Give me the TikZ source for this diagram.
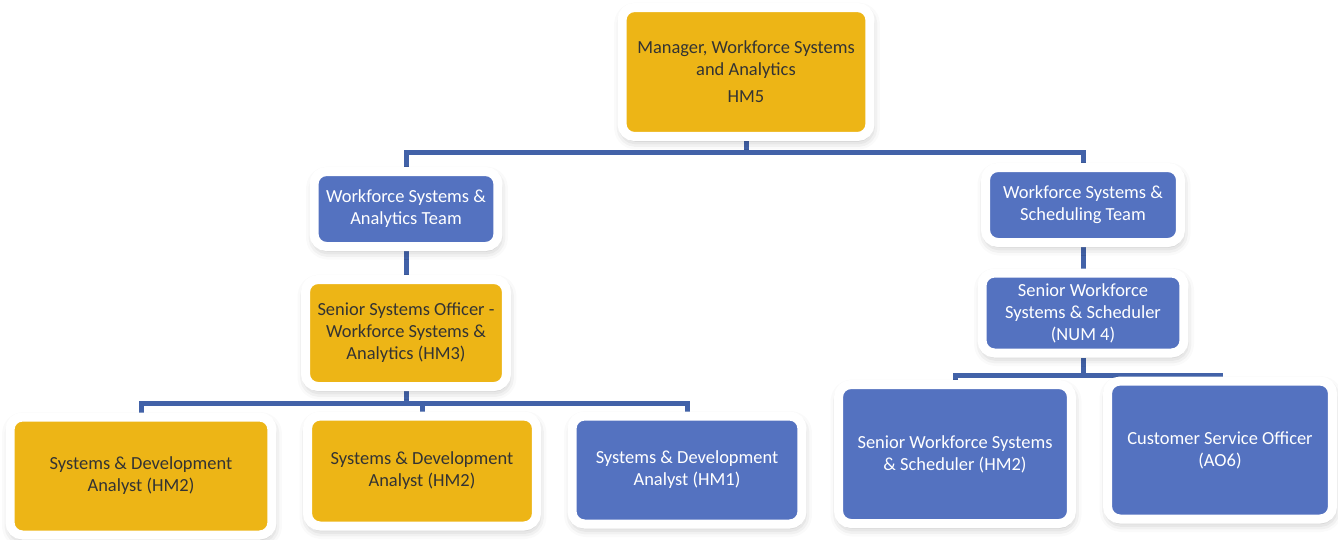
\documentclass[tikz,border=0pt]{standalone}
\usepackage{fontspec}
\setmainfont{Carlito}
\usetikzlibrary{shadows.blur,backgrounds}
\definecolor{gold}{RGB}{237,181,22}
\definecolor{steel}{RGB}{84,114,192}
\definecolor{linkblue}{RGB}{66,98,168}

\begin{document}
\begin{tikzpicture}[x=0.02cm, y=-0.02cm,
    post/.style={rectangle, rounded corners=0.25cm, draw=white, line width=0.18cm, align=center, inner sep=0.1cm,
        font=\fontsize{10.5}{12.5}\selectfont,
        blur shadow={shadow xshift=0.02cm, shadow yshift=-0.08cm, shadow blur radius=0.18cm, shadow opacity=30}},
    gold post/.style={post, fill=gold, text=black!80},
    blue post/.style={post, fill=steel, text=white},
    wire/.style={draw=linkblue, line width=0.1cm}]
    \useasboundingbox (0,0) rectangle (1338,539);

    \node[gold post, minimum width=4.96cm, minimum height=2.58cm] (manager) at (746,72) {Manager, Workforce Systems\\and Analytics\\[3pt]HM5} ;

    \node[blue post, minimum width=3.68cm, minimum height=1.5cm] (wsa_team) at (406,209) {Workforce Systems \&\\Analytics Team} ;
    \node[blue post, minimum width=3.9cm, minimum height=1.5cm] (wss_team) at (1083,205) {Workforce Systems \&\\Scheduling Team} ;

    \node[gold post, minimum width=4.02cm, minimum height=2.14cm] (sso_hm3) at (406,333) {Senior Systems Officer -\\Workforce Systems \&\\Analytics (HM3)} ;
    \node[blue post, minimum width=4.04cm, minimum height=1.6cm] (sws_num4) at (1083,313) {Senior Workforce\\Systems \& Scheduler\\(NUM 4)} ;

    \node[gold post, minimum width=5.24cm, minimum height=2.36cm] (sda_hm2_a) at (141,476) {Systems \& Development\\Analyst (HM2)} ;
    \node[gold post, minimum width=4.58cm, minimum height=2.2cm] (sda_hm2_b) at (422,471) {Systems \& Development\\Analyst (HM2)} ;
    \node[blue post, minimum width=4.6cm, minimum height=2.16cm] (sda_hm1) at (687,470) {Systems \& Development\\Analyst (HM1)} ;
    \node[blue post, minimum width=4.66cm, minimum height=2.78cm] (sws_hm2) at (955,454) {Senior Workforce Systems\\\& Scheduler (HM2)} ;
    \node[blue post, minimum width=4.5cm, minimum height=2.76cm] (cso_ao6) at (1220,450) {Customer Service Officer\\(AO6)} ;

    \coordinate (top_bus) at (746,152) ;
    \coordinate (left_bus) at (406,403) ;
    \coordinate (right_bus) at (1083,375) ;

    \begin{pgfonlayer}{background}
    \draw[wire] (manager.south) -- (top_bus) ;
    \draw[wire] (wsa_team.north) |- (top_bus) -| (wss_team.north) ;

    \draw[wire] (wsa_team.south) -- (sso_hm3.north) ;
    \draw[wire] (wss_team.south) -- (sws_num4.north) ;

    \draw[wire] (sso_hm3.south) -- (left_bus) ;
    \draw[wire] (sda_hm2_a.north) |- (left_bus) -| (sda_hm1.north) ;
    \draw[wire] (sda_hm2_b.north) -- (sda_hm2_b.north |- left_bus) ;

    \draw[wire] (sws_num4.south) -- (right_bus) ;
    \draw[wire] (sws_hm2.north) |- (right_bus) -| (cso_ao6.north) ;
    \end{pgfonlayer}

\end{tikzpicture}
\end{document}
